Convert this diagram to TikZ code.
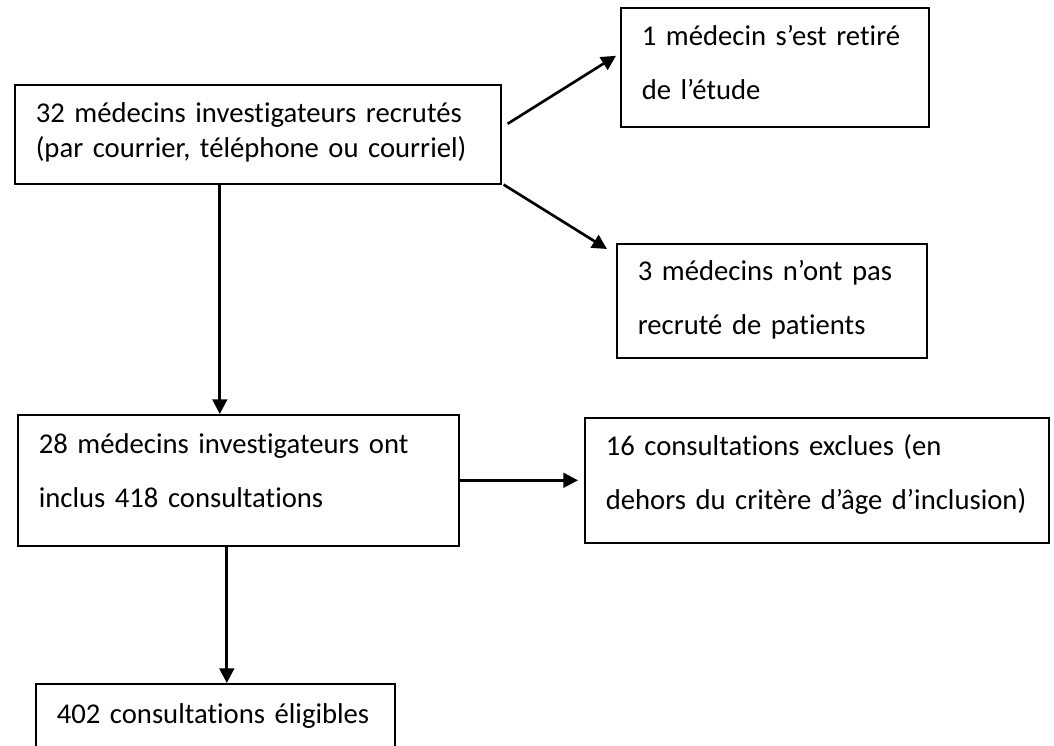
\documentclass[tikz,border=0pt]{standalone}
\usepackage{fontspec}
\setmainfont{Carlito}[Ligatures=NoCommon]
\usetikzlibrary{arrows.meta,positioning}

\begin{document}
\begin{tikzpicture}[x=0.75pt, y=-0.75pt,
  flowbox/.style={draw, rectangle, line width=1.2pt, anchor=north west, align=left, inner xsep=15.75pt, inner ysep=0pt, font=\fontsize{21.5}{40.5}\selectfont},
  arr/.style={-{Triangle[length=11pt,width=11pt]}, line width=2pt}]
\useasboundingbox (0,0) rectangle (1054,746);
\node[flowbox, minimum width=364.5pt, text width=333pt, text height=28.5pt, text depth=45.75pt, font=\fontsize{21.5}{26.25}\selectfont] (recrutes) at (14,84) {32 médecins investigateurs recrutés\\(par courrier, téléphone ou courriel)};
\node[flowbox, minimum width=231pt, text width=199.5pt, text height=28.5pt, text depth=60.75pt] (retire) at (620,7) {1 médecin s’est retiré\\de l’étude};
\node[flowbox, minimum width=232.5pt, text width=201pt, text height=27.75pt, text depth=57.75pt] (sanspatients) at (616,243) {3 médecins n’ont pas\\recruté de patients};
\node[flowbox, minimum width=330.75pt, text width=299.25pt, text height=29.25pt, text depth=69pt] (inclus) at (17,414) {28 médecins investigateurs ont\\inclus 418 consultations};
\node[flowbox, minimum width=348pt, text width=316.5pt, text height=28.5pt, text depth=65.25pt] (exclues) at (584,417) {16 consultations exclues (en\\\mbox{dehors du critère d’âge d’inclusion)}};
\node[flowbox, minimum width=269.25pt, text width=237.75pt, text height=30pt, text depth=50pt] (eligibles) at (35,683) {\mbox{402 consultations éligibles}};
\draw[arr] ([shift={(6,-10.5)}]recrutes.east) -- ([shift={(-4,-11.5)}]retire.west);
\draw[arr] ([shift={(2,0)}]recrutes.south east) -- ([shift={(-9,6)}]sanspatients.north west);
\draw[arr] ([shift={(-38,0)}]recrutes.south) -- ([shift={(-38,0)}]recrutes.south |- inclus.north);
\draw[arr, shorten >=4.5pt] (inclus.east) -- (exclues.west);
\draw[arr] ([shift={(-11.5,0)}]inclus.south) -- ([shift={(-11.5,0)}]inclus.south |- eligibles.north);
\end{tikzpicture}
\end{document}
